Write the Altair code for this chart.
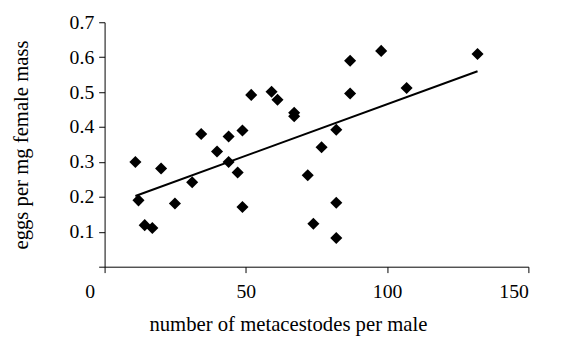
import altair as alt
import pandas as pd

# metacestodes per male (x) and eggs per mg female mass (y)
x_vals = [10.9, 12.0, 14.2, 16.9, 20.0, 24.9, 31.0, 34.2, 39.8, 43.9, 43.9, 47.1,
          48.8, 48.8, 51.9, 59.1, 61.2, 67.1, 67.1, 71.9, 73.9, 76.8, 82.0, 82.0,
          82.0, 86.9, 86.9, 97.9, 106.9, 132.0]
y_vals = [0.300, 0.190, 0.119, 0.111, 0.281, 0.181, 0.242, 0.380, 0.330, 0.373, 0.300, 0.270,
          0.390, 0.171, 0.492, 0.501, 0.478, 0.441, 0.431, 0.262, 0.123, 0.342, 0.392, 0.183,
          0.082, 0.590, 0.496, 0.618, 0.512, 0.609]

x_ticks = [0, 50, 100, 150]
y_ticks = [0, 0.1, 0.2, 0.3, 0.4, 0.5, 0.6, 0.7]

df = pd.DataFrame({"x": x_vals, "y": y_vals})

FONT = "Liberation Serif"
LABEL_SIZE = 20
TITLE_SIZE = 21

x_enc = alt.X(
    "x:Q",
    scale=alt.Scale(domain=[0, 150], nice=False, zero=False),
    axis=alt.Axis(
        values=x_ticks,
        title="number of metacestodes per male",
        grid=False,
        tickSize=6,
        labelPadding=9,
        labelOverlap=False,
        labelFont=FONT,
        labelFontSize=LABEL_SIZE,
        titleFont=FONT,
        titleFontSize=TITLE_SIZE,
        labelOffset={"condition": {"test": "datum.value == 0", "value": -20}, "value": 0},
        titleX=186,
        titleY=65,
        titleAlign="center",
        titleBaseline="alphabetic",
    ),
)
y_enc = alt.Y(
    "y:Q",
    scale=alt.Scale(domain=[0, 0.7], nice=False, zero=False),
    axis=alt.Axis(
        values=y_ticks,
        title="eggs per mg female mass",
        grid=False,
        tickSize=6,
        labelPadding=5,
        labelOverlap=False,
        labelFont=FONT,
        labelFontSize=LABEL_SIZE,
        titleFont=FONT,
        titleFontSize=TITLE_SIZE,
        labelExpr="datum.value == 0 ? '' : format(datum.value, '.1f')",
        titleX=-78,
        titleY=124,
        titleAngle=270,
        titleAlign="center",
        titleBaseline="alphabetic",
    ),
)

base = alt.Chart(df).encode(x=x_enc, y=y_enc)

points = base.mark_point(
    shape="diamond", filled=True, color="black", size=150, opacity=1
)

trend = base.transform_regression("x", "y").mark_line(
    color="black", strokeWidth=2
)

chart = (
    alt.layer(points, trend)
    .properties(
        width=430,
        height=248,
        autosize=alt.AutoSizeParams(type="none"),
        padding={"left": 98, "top": 12, "right": 27, "bottom": 79},
        background="white",
    )
    .configure_view(stroke=None)
    .configure_axis(
        domainColor="black",
        tickColor="black",
        domainWidth=1,
        tickWidth=1,
        labelFont=FONT,
        titleFont=FONT,
        labelFontSize=LABEL_SIZE,
        titleFontSize=TITLE_SIZE,
        labelColor="black",
        titleColor="black",
        titleFontWeight="normal",
    )
)

chart.save("out.html", embed_options={"renderer": "svg", "actions": False})
